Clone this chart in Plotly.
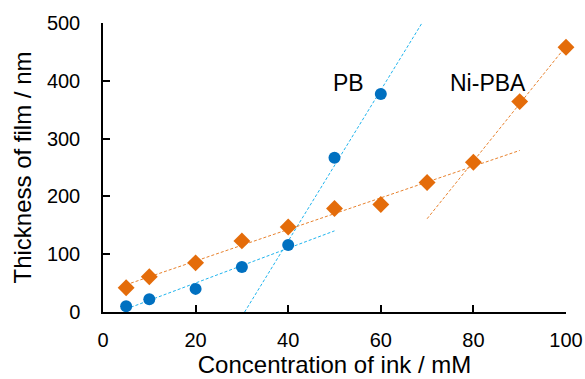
import numpy as np
import plotly.graph_objects as go

pb_x = [5, 10, 20, 30, 40, 50, 60]
pb_y = [10, 22, 40, 78, 116, 267, 377]
ni_x = [5, 10, 20, 30, 40, 50, 60, 70, 80, 90, 100]
ni_y = [42, 61, 85, 123, 147, 179, 186, 224, 259, 364, 458]

x_ticks = [0, 20, 40, 60, 80, 100]
y_ticks = [0, 100, 200, 300, 400, 500]

# trend line fit subsets (indices) and x extents
pb_low_idx = [0, 1, 2, 3, 4]
pb_low_span = [5, 50]
pb_high_idx = [4, 5, 6]
ni_low_idx = [0, 1, 2, 3, 4, 5, 6, 7]
ni_low_span = [5, 90]
ni_high_idx = [8, 9, 10]
ni_high_span = [70, 100]

BLUE = "#0070C0"
BLUE_LINE = "#1FB4EE"
ORANGE = "#E46C0A"
ORANGE_LINE = "#E8822E"
FONT = "Liberation Sans, Arial, sans-serif"


def fit(xs, ys, idx):
    return np.polyfit([xs[i] for i in idx], [ys[i] for i in idx], 1)


fig = go.Figure()


def add_trend(coef, span, color):
    xs = np.array(span, dtype=float)
    fig.add_trace(go.Scatter(x=xs, y=np.polyval(coef, xs), mode="lines",
                             line=dict(color=color, width=1, dash="3px,2px"),
                             showlegend=False, hoverinfo="skip", cliponaxis=False))


c = fit(pb_x, pb_y, pb_low_idx)
add_trend(c, pb_low_span, BLUE_LINE)
c = fit(pb_x, pb_y, pb_high_idx)
add_trend(c, [(0 - c[1]) / c[0], (500 - c[1]) / c[0]], BLUE_LINE)
c = fit(ni_x, ni_y, ni_low_idx)
add_trend(c, ni_low_span, ORANGE_LINE)
c = fit(ni_x, ni_y, ni_high_idx)
add_trend(c, ni_high_span, ORANGE_LINE)

fig.add_trace(go.Scatter(x=pb_x, y=pb_y, mode="markers", name="PB", cliponaxis=False,
                         marker=dict(symbol="circle", size=12, color=BLUE)))
fig.add_trace(go.Scatter(x=ni_x, y=ni_y, mode="markers", name="Ni-PBA", cliponaxis=False,
                         marker=dict(symbol="diamond", size=13, color=ORANGE)))

fig.add_annotation(x=53.1, y=396, text="PB", showarrow=False,
                   font=dict(size=23, color="black", family=FONT))
fig.add_annotation(x=83.2, y=396, text="Ni-PBA", showarrow=False,
                   font=dict(size=23, color="black", family=FONT))

fig.update_layout(
    width=585, height=379,
    margin=dict(l=103, r=19, t=23, b=67),
    paper_bgcolor="white", plot_bgcolor="white",
    font=dict(family=FONT, size=20, color="black"),
    showlegend=False,
)
fig.update_xaxes(range=[0, 100], tickvals=x_ticks, ticks="inside", ticklen=7,
                 tickcolor="black", tickwidth=1.5, ticklabelstandoff=9,
                 showline=True, linecolor="black", linewidth=1.5,
                 showgrid=False, zeroline=False, automargin=False,
                 title=dict(text="Concentration of ink / mM", font=dict(size=24), standoff=6))
fig.update_yaxes(range=[0, 500], tickvals=y_ticks, ticks="inside", ticklen=7,
                 tickcolor="black", tickwidth=1.5, ticklabelstandoff=17,
                 showline=True, linecolor="black", linewidth=1.5,
                 showgrid=False, zeroline=False, automargin=False,
                 title=dict(text="Thickness of film / nm", font=dict(size=24), standoff=8))

# remove the browser's default page margin so the figure fills the window exactly
fig.write_html("out.html", config={"displayModeBar": False},
               post_script="document.body.style.margin='0';document.body.style.overflow='hidden';")
